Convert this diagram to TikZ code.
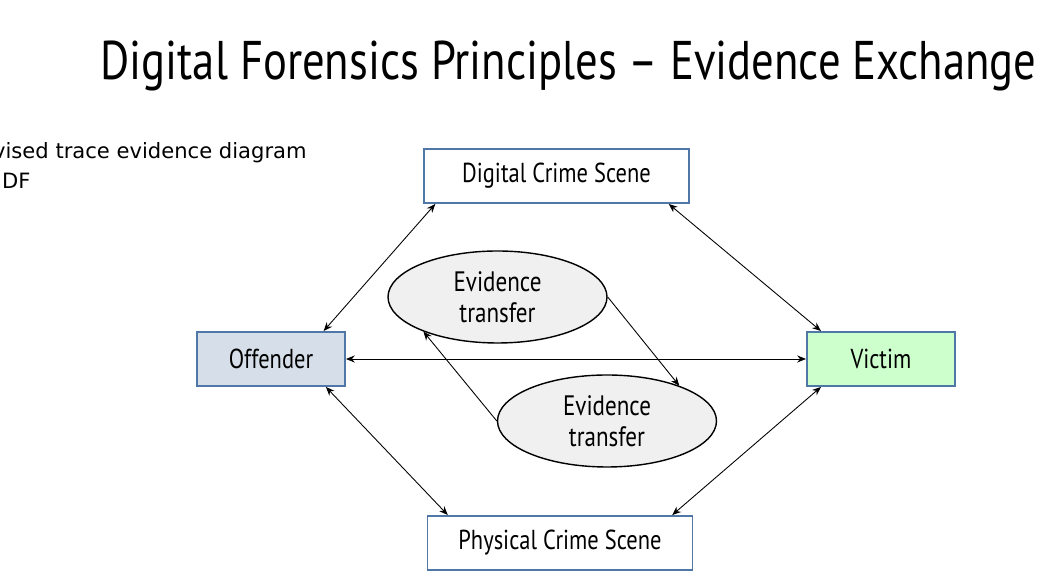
\documentclass[tikz,border=0pt]{standalone}
\usepackage{fontspec}
\setmainfont{DejaVu Sans}
\newfontfamily\diagfont[FakeStretch=0.82]{PT Sans}
\usetikzlibrary{positioning,arrows.meta,shapes.geometric}
\definecolor{boxline}{RGB}{79,119,168}
\definecolor{offfill}{RGB}{214,223,233}
\definecolor{vicfill}{RGB}{204,255,204}
\definecolor{evfill}{RGB}{240,240,240}

\begin{document}
\begin{tikzpicture}[
  scene/.style={draw=boxline, fill=white, line width=1.1pt,
    minimum width=5.3cm, minimum height=1.08cm, inner sep=0pt,
    font=\diagfont\fontsize{15.6}{17}\selectfont},
  party/.style={scene, minimum width=2.96cm},
  transfer/.style={ellipse, draw, fill=evfill, line width=0.8pt,
    minimum width=4.38cm, minimum height=1.84cm, inner sep=0pt,
    align=center, font=\diagfont\fontsize{16}{17.6}\selectfont},
  link/.style={{Stealth[length=5pt,width=4pt]}-{Stealth[length=5pt,width=4pt]}, line width=0.5pt},
  flow/.style={-{Stealth[length=5pt,width=4pt]}, line width=0.5pt}
]
\useasboundingbox (0,0) rectangle (21.14,11.7);

\node[font=\diagfont\fontsize{31}{31}\selectfont, anchor=base, inner sep=0pt]
  (title) at (11.37,10.1) {Digital Forensics Principles – Evidence Exchange};
% slide text, cut at the left edge as on the slide
\node[align=left, anchor=north east, inner sep=0pt,
  font=\fontsize{12}{17}\selectfont] (note) at (6.14,8.86)
  {Revised trace evidence diagram\\for DF};

% scenes and parties
\node[scene] (dcs) at (11.13,8.18) {Digital Crime Scene};
\node[party, fill=offfill] (off) at (5.42,4.52) {Offender};
\node[party, fill=vicfill, right=9.2cm of off] (vic) {Victim};
\node[scene] (pcs) at (11.2,0.84) {Physical Crime Scene};

% evidence transfer
\node[transfer] (ev1) at (9.95,5.76) {Evidence\\transfer};
\node[transfer] (ev2) at (12.14,3.28) {Evidence\\transfer};

\draw[link] (off.28) -- (dcs.193);
\draw[link] (dcs.346) -- (vic.155);
\draw[link] (off.east) -- (vic.west);
\draw[link] (off.333) -- (pcs.166);
\draw[link] (vic.205) -- (pcs.14);
\draw[flow] (ev1.east) -- (ev2.26);
\draw[flow] (ev2.west) -- (ev1.205);
\end{tikzpicture}
\end{document}
